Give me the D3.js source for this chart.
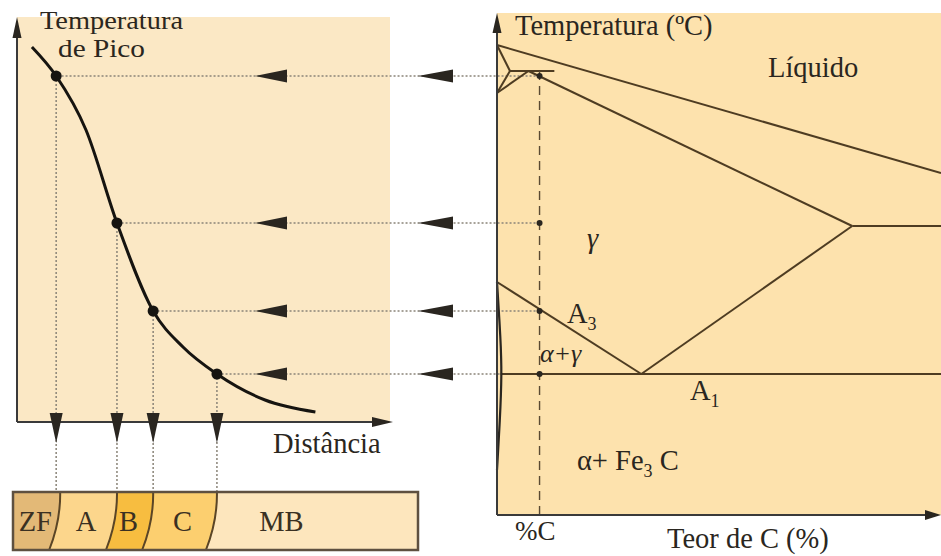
<!DOCTYPE html>
<html>
<head>
<meta charset="utf-8">
<script src="https://cdn.jsdelivr.net/npm/d3@7"></script>
<style>
  html, body { margin: 0; background: #fff; }
  svg { display: block; font-family: "Liberation Serif", "DejaVu Serif", serif; }
</style>
</head>
<body>
<svg id="chart" width="941" height="556"></svg>
<script>
// peak temperature vs distance from the fusion line: [distance, relative temperature]
const peakCurve = [
  [4, 936], [10.5, 878], [18.5, 770], [26.8, 584], [36.5, 408],
  [44.5, 336], [53.6, 282], [66.5, 230], [80, 206]
];
// the four peaks that are projected onto the phase diagram
const peakPoints = [[10.5, 878], [26.8, 584], [36.5, 408], [53.6, 282]];
const carbonContent = 0.23;

// phase boundaries: [carbon %, relative temperature]
const phaseLines = [
  [[0, 940], [2.4, 684]],          // liquidus
  [[0, 940], [0.07, 888]],         // delta solidus
  [[0.07, 888], [0, 844]],         // delta solvus
  [[0.17, 888], [0, 844]],         // gamma / delta+gamma
  [[0.07, 888], [0.31, 888]],      // peritectic
  [[0.17, 888], [1.92, 578]],      // solidus
  [[1.92, 578], [2.4, 578]],       // eutectic
  [[0, 466], [0.78, 282]],         // A3
  [[0.78, 282], [1.92, 578]],      // Acm
  [[0.02, 282], [2.4, 282]]        // A1
];
const alphaSolvus = [[0, 466], [0.02, 350], [0.026, 282], [0.016, 190], [0, 90]];

const zoneNames = ['ZF', 'A', 'B', 'C', 'MB'];
const zoneColors = ['#e3b977', '#fcd68c', '#f7bd40', '#fccf6f', '#fde6bd'];

const phaseLabels = [
  { c: 1.465, t: 876, parts: [['Líquido']] },
  { c: 0.486, t: 534, parts: [['γ']], italic: true },
  { c: 0.378, t: 384, parts: [['A'], ['3', 'sub']] },
  { c: 0.232, t: 306, parts: [['α+γ']], italic: true, size: 26 },
  { c: 1.043, t: 230, parts: [['A'], ['1', 'sub']] },
  { c: 0.432, t: 90, parts: [['α+ Fe'], ['3', 'sub'], [' C']] }
];

const svg = d3.select('#chart');
const ink = '#2a2620';
const lineBrown = '#4e3c22';
const fontSize = 28.5;

const tempY = d3.scaleLinear().domain([0, 1000]).range([515, 15]);
const distX = d3.scaleLinear().domain([0, 100]).range([17, 390]);
const carbonX = d3.scaleLinear().domain([0, 2.4]).range([497, 941]);
const leftBaseT = 186;

function tri(g, pts, fill) {
  g.append('path').attr('d', 'M' + pts.map((p) => p.join(',')).join('L') + 'Z').attr('fill', fill || ink);
}

// ---------- backgrounds ----------
const leftBottom = tempY(leftBaseT);
svg.append('rect').attr('x', distX(0)).attr('y', 17)
  .attr('width', distX(100) - distX(0)).attr('height', leftBottom - 17).attr('fill', '#fbe8c5');
svg.append('rect').attr('x', carbonX(0)).attr('y', 13)
  .attr('width', carbonX(2.4) - carbonX(0)).attr('height', tempY(0) - 13).attr('fill', '#fde2ad');

// ---------- dotted projection lines ----------
const dots = svg.append('g').attr('stroke', '#8a8478').attr('stroke-width', 1.5)
  .attr('stroke-dasharray', '2 2').attr('fill', 'none');
peakPoints.forEach(([d, t]) => {
  dots.append('line').attr('x1', carbonX(carbonContent)).attr('x2', distX(d))
    .attr('y1', tempY(t)).attr('y2', tempY(t));
  dots.append('line').attr('x1', distX(d)).attr('x2', distX(d))
    .attr('y1', tempY(t)).attr('y2', 492);
});

// ---------- phase diagram ----------
const phase = svg.append('g');
const line = d3.line().x((p) => carbonX(p[0])).y((p) => tempY(p[1]));
phase.selectAll('path.boundary').data(phaseLines).join('path')
  .attr('class', 'boundary').attr('d', line)
  .attr('fill', 'none').attr('stroke', lineBrown).attr('stroke-width', 2);
phase.append('path').attr('d', line.curve(d3.curveBasis)(alphaSolvus))
  .attr('fill', 'none').attr('stroke', ink).attr('stroke-width', 2.2);

phase.append('line').attr('x1', carbonX(carbonContent)).attr('x2', carbonX(carbonContent))
  .attr('y1', tempY(888)).attr('y2', tempY(0))
  .attr('stroke', '#5a4a33').attr('stroke-width', 1.4).attr('stroke-dasharray', '9 6');
phase.selectAll('circle').data(peakPoints).join('circle')
  .attr('cx', carbonX(carbonContent)).attr('cy', (p) => tempY(p[1])).attr('r', 3).attr('fill', ink);

// axes
phase.append('line').attr('x1', carbonX(0)).attr('x2', carbonX(0)).attr('y1', tempY(0)).attr('y2', 25)
  .attr('stroke', '#3a3a3a').attr('stroke-width', 2);
phase.append('line').attr('x1', carbonX(0)).attr('x2', 935).attr('y1', tempY(0)).attr('y2', tempY(0))
  .attr('stroke', '#3a3a3a').attr('stroke-width', 2);
tri(phase, [[carbonX(0), 13], [carbonX(0) - 4.5, 33], [carbonX(0) + 4.5, 33]]);
tri(phase, [[941, tempY(0)], [925, tempY(0) - 5], [925, tempY(0) + 5]]);

phase.selectAll('text.region').data(phaseLabels).join('text')
  .attr('class', 'region')
  .attr('x', (d) => carbonX(d.c)).attr('y', (d) => tempY(d.t))
  .attr('font-size', (d) => d.size || fontSize).attr('fill', ink)
  .attr('font-style', (d) => d.italic ? 'italic' : null)
  .each(function (d) {
    const el = d3.select(this);
    let lowered = false;
    d.parts.forEach(([txt, kind]) => {
      const dy = kind === 'sub' ? 7 : (lowered ? -7 : 0);
      lowered = kind === 'sub';
      el.append('tspan').text(txt)
        .attr('font-size', kind === 'sub' ? 18 : null)
        .attr('dy', dy);
    });
  });

phase.append('text').attr('x', 515).attr('y', 35).attr('font-size', fontSize).attr('fill', ink).text('Temperatura (ºC)');
phase.append('text').attr('x', 515).attr('y', 540).attr('font-size', 27).attr('fill', ink).text('%C');
phase.append('text').attr('x', 667).attr('y', 548).attr('font-size', fontSize).attr('fill', ink).text('Teor de C (%)');

// ---------- peak temperature panel ----------
const left = svg.append('g');
left.append('line').attr('x1', distX(0)).attr('x2', distX(0)).attr('y1', leftBottom).attr('y2', 30)
  .attr('stroke', '#3a3a3a').attr('stroke-width', 2);
left.append('line').attr('x1', distX(0)).attr('x2', 380).attr('y1', leftBottom).attr('y2', leftBottom)
  .attr('stroke', '#3a3a3a').attr('stroke-width', 2);
tri(left, [[distX(0), 17], [distX(0) - 4.5, 38], [distX(0) + 4.5, 38]]);
tri(left, [[393, leftBottom], [372, leftBottom - 5], [372, leftBottom + 5]]);

left.append('path')
  .attr('d', d3.line().x((p) => distX(p[0])).y((p) => tempY(p[1])).curve(d3.curveMonotoneX)(peakCurve))
  .attr('fill', 'none').attr('stroke', '#161410').attr('stroke-width', 3);
left.selectAll('circle').data(peakPoints).join('circle')
  .attr('cx', (p) => distX(p[0])).attr('cy', (p) => tempY(p[1])).attr('r', 5.5).attr('fill', '#161410');

peakPoints.forEach(([d, t]) => {
  const y = tempY(t);
  const x = distX(d);
  tri(left, [[255, y], [287, y - 6.5], [287, y + 6.5]]);
  tri(left, [[418, y], [453, y - 6.5], [453, y + 6.5]]);
  tri(left, [[x, 443], [x - 6.5, 413], [x + 6.5, 413]]);
});

// two stacked lines, slightly condensed in height so they do not collide
left.append('text').attr('x', 40).attr('y', 28.5).attr('font-size', 26)
  .attr('textLength', 143).attr('lengthAdjust', 'spacingAndGlyphs').attr('fill', ink).text('Temperatura');
left.append('text').attr('x', 58).attr('y', 57).attr('font-size', 26)
  .attr('textLength', 87).attr('lengthAdjust', 'spacingAndGlyphs').attr('fill', ink).text('de Pico');
left.append('text').attr('x', 273).attr('y', 453).attr('font-size', fontSize).attr('fill', ink).text('Distância');

// ---------- zone bar ----------
const bar = { x0: 13, x1: 418, y0: 492, y1: 550 };
const tops = peakPoints.map(([d], i) => distX(d) + (i === 0 ? 4 : 0));
const boundaries = tops.map((top) => ({ top, bottom: top - 11 }));
const zoneG = svg.append('g');
const bowl = (b) => `Q${(b.top + b.bottom) / 2 + 6},${(bar.y0 + bar.y1) / 2} `;

zoneNames.forEach((name, i) => {
  const lb = boundaries[i - 1];
  const rb = boundaries[i];
  let d = 'M' + (lb ? lb.top : bar.x0) + ',' + bar.y0;
  d += 'L' + (rb ? rb.top : bar.x1) + ',' + bar.y0;
  d += rb ? bowl(rb) + rb.bottom + ',' + bar.y1 : 'L' + bar.x1 + ',' + bar.y1;
  d += 'L' + (lb ? lb.bottom : bar.x0) + ',' + bar.y1;
  d += lb ? bowl(lb) + lb.top + ',' + bar.y0 : 'Z';
  zoneG.append('path').attr('d', d + 'Z').attr('fill', zoneColors[i]);

  const lx = lb ? (lb.top + lb.bottom) / 2 + 3 : bar.x0;
  const rx = rb ? (rb.top + rb.bottom) / 2 + 3 : lx + 134;
  zoneG.append('text').attr('x', (lx + rx) / 2 - (i === 2 ? 4 : 0)).attr('y', 531)
    .attr('text-anchor', 'middle').attr('font-size', fontSize).attr('fill', '#3a3022').text(name);
});
boundaries.forEach((b) => {
  zoneG.append('path').attr('d', `M${b.top},${bar.y0}` + bowl(b) + `${b.bottom},${bar.y1}`)
    .attr('fill', 'none').attr('stroke', '#5a4526').attr('stroke-width', 2);
});
zoneG.append('rect').attr('x', bar.x0).attr('y', bar.y0)
  .attr('width', bar.x1 - bar.x0).attr('height', bar.y1 - bar.y0)
  .attr('fill', 'none').attr('stroke', '#5e5040').attr('stroke-width', 2.5);
</script>
</body>
</html>
